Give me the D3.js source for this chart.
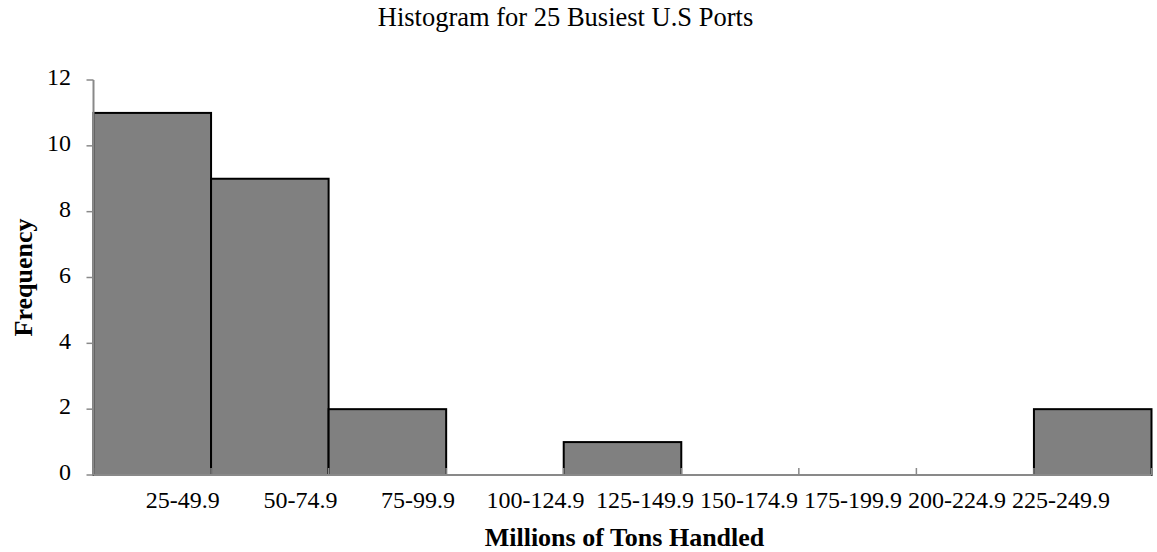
<!DOCTYPE html>
<html>
<head>
<meta charset="utf-8">
<script src="https://cdn.jsdelivr.net/npm/d3@7"></script>
<style>
  body { margin: 0; background: #fff; }
  svg text { font-family: "Times New Roman", "Liberation Serif", serif; fill: #000; }
</style>
</head>
<body>
<svg id="chart" width="1157" height="552"></svg>
<script>
// data
var bins = ["25-49.9", "50-74.9", "75-99.9", "100-124.9", "125-149.9",
            "150-174.9", "175-199.9", "200-224.9", "225-249.9"];
var freq = [11, 9, 2, 0, 1, 0, 0, 0, 2];
var y_ticks = [0, 2, 4, 6, 8, 10, 12];

var width = 1157, height = 552;
var plot = { left: 93.5, right: 1151.5, top: 80, bottom: 475 };
var axis_grey = "#898989";

var svg = d3.select("#chart");

var x = d3.scaleBand()
    .domain(bins)
    .range([plot.left, plot.right])
    .padding(0);

var y = d3.scaleLinear()
    .domain([0, 12])
    .range([plot.bottom, plot.top]);

// title (sits a bit left of the page centre in the original)
svg.append("text")
    .attr("x", width / 2 - 13)
    .attr("y", 26)
    .attr("text-anchor", "middle")
    .style("font-size", "26.5px")
    .text("Histogram for 25 Busiest U.S Ports");

// bars (empty bins draw nothing)
var rows = bins.map(function(b, i) { return { bin: b, value: freq[i] }; });

svg.append("g")
    .selectAll("rect")
    .data(rows.filter(function(d) { return d.value > 0; }))
    .enter().append("rect")
    .attr("x", function(d) { return x(d.bin); })
    .attr("y", function(d) { return y(d.value); })
    .attr("width", x.bandwidth())
    .attr("height", function(d) { return y(0) - y(d.value); })
    .style("fill", "#808080")
    .style("stroke", "#000")
    .style("stroke-width", 2);

// x axis: baseline plus inward ticks on every bin edge
var edges = bins.map(function(b) { return x(b); }).concat([x.range()[1]]);
var xg = svg.append("g");

xg.append("line")
    .attr("x1", plot.left).attr("x2", plot.right)
    .attr("y1", y(0)).attr("y2", y(0))
    .style("stroke", axis_grey)
    .style("stroke-width", 2);

xg.selectAll("line.tick")
    .data(edges)
    .enter().append("line")
    .attr("class", "tick")
    .attr("x1", function(d) { return d; })
    .attr("x2", function(d) { return d; })
    .attr("y1", y(0))
    .attr("y2", y(0) - 7)
    .style("stroke", axis_grey)
    .style("stroke-width", 1.5);

// category labels: shifted right of the bin centre, then packed
// from the right so they never run into each other
var labels = xg.selectAll("text")
    .data(bins)
    .enter().append("text")
    .attr("text-anchor", "middle")
    .attr("y", 508)
    .style("font-size", "24px")
    .text(function(d) { return d; });

var boxes = [];
labels.each(function(d) {
    boxes.push({
        w: this.getComputedTextLength(),
        cx: x(d) + x.bandwidth() * 0.76
    });
});
var gap = 6, right_limit = width - 47;
for (var i = boxes.length - 1; i >= 0; i--) {
    var limit = (i == boxes.length - 1) ? right_limit
        : boxes[i + 1].cx - boxes[i + 1].w / 2 - gap;
    if (boxes[i].cx + boxes[i].w / 2 > limit) {
        boxes[i].cx = limit - boxes[i].w / 2;
    }
}
labels.attr("x", function(d, i) { return boxes[i].cx; });

// y axis
var yg = svg.append("g");

yg.append("line")
    .attr("x1", plot.left).attr("x2", plot.left)
    .attr("y1", y(12)).attr("y2", y(0))
    .style("stroke", axis_grey)
    .style("stroke-width", 2);

yg.selectAll("line.tick")
    .data(y_ticks)
    .enter().append("line")
    .attr("class", "tick")
    .attr("x1", plot.left - 7)
    .attr("x2", plot.left)
    .attr("y1", function(d) { return y(d); })
    .attr("y2", function(d) { return y(d); })
    .style("stroke", axis_grey)
    .style("stroke-width", 1.5);

yg.selectAll("text")
    .data(y_ticks)
    .enter().append("text")
    .attr("x", 71)
    .attr("y", function(d) { return y(d); })
    .attr("dy", "0.22em")
    .attr("text-anchor", "end")
    .style("font-size", "24px")
    .text(function(d) { return d; });

// axis titles
svg.append("text")
    .attr("x", (plot.left + plot.right) / 2 + 2)
    .attr("y", 546)
    .attr("text-anchor", "middle")
    .style("font-size", "26px")
    .style("font-weight", "bold")
    .text("Millions of Tons Handled");

svg.append("text")
    .attr("transform", "translate(32," + ((plot.top + plot.bottom) / 2) + ") rotate(-90)")
    .attr("text-anchor", "middle")
    .style("font-size", "26px")
    .style("font-weight", "bold")
    .text("Frequency");
</script>
</body>
</html>
